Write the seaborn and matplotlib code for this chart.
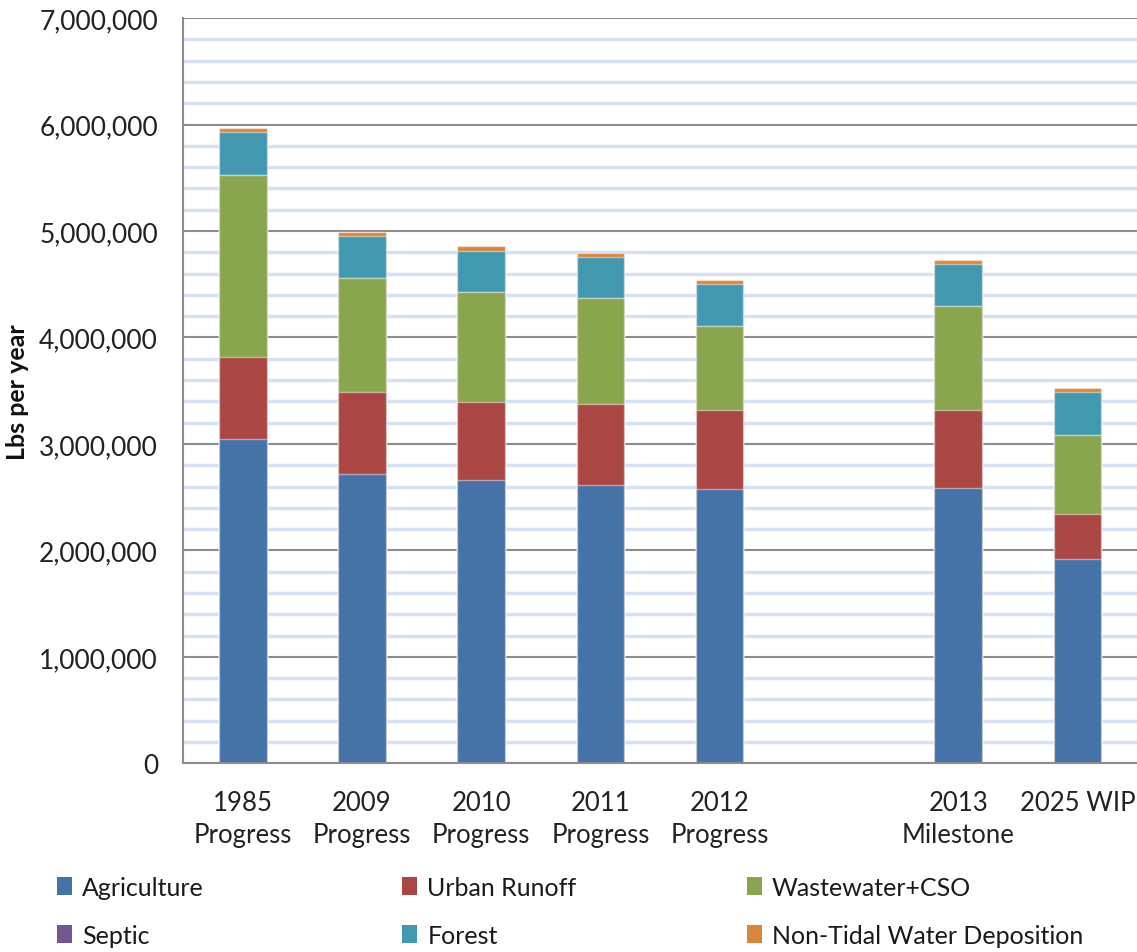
import pandas as pd
import numpy as np
import matplotlib.pyplot as plt
import matplotlib.ticker as mticker
from matplotlib.patches import Patch
import seaborn as sns

# scenarios (blank slot between 2012 and 2013 is kept empty)
scenarios = ['1985\nProgress', '2009\nProgress', '2010\nProgress', '2011\nProgress',
             '2012\nProgress', '2013\nMilestone', '2025 WIP']
order = scenarios[:5] + [' '] + scenarios[5:]

sources = ['Agriculture', 'Urban Runoff', 'Wastewater+CSO', 'Septic', 'Forest',
           'Non-Tidal Water Deposition']
colors = ['#4572A7', '#AA4643', '#89A54E', '#71588F', '#4198AF', '#DB843D']

# lbs per year
agriculture = [3048000, 2713000, 2662000, 2612000, 2580000, 2587000, 1917000]
urban_runoff = [767000, 770000, 733000, 761000, 740000, 733000, 423000]
wastewater = [1710000, 1071000, 1033000, 993000, 783000, 971000, 745000]
septic = [0, 0, 0, 0, 0, 0, 0]
forest = [405000, 398000, 386000, 385000, 398000, 398000, 398000]
non_tidal = [36000, 40000, 41000, 38000, 37000, 37000, 38000]

values = [agriculture, urban_runoff, wastewater, septic, forest, non_tidal]

df = pd.DataFrame({'Scenario': scenarios})
for src, vals in zip(sources, values):
    df[src] = vals
cum = df[sources].cumsum(axis=1)
cum['Scenario'] = df['Scenario']

sns.set_style("white")
plt.rcParams['font.family'] = ['Lato', 'DejaVu Sans']

fig, ax = plt.subplots(figsize=(11.37, 9.53), dpi=100)
fig.subplots_adjust(left=0.161, right=1.0, bottom=0.198, top=0.980)

# stacked bars: draw cumulative totals from the top layer down
for src, col in reversed(list(zip(sources, colors))):
    sns.barplot(data=cum, x='Scenario', y=src, order=order, color=col,
                saturation=1, width=0.4, errorbar=None, ax=ax,
                edgecolor=(1, 1, 1, 0.45), linewidth=1)

ax.set_xlim(-0.5, 7.5)
ax.set_ylim(0, 7000000)
ax.set_xlabel('')
ax.set_ylabel('Lbs per year', fontsize=18, fontweight='bold', labelpad=7, color='#111111')

ax.yaxis.set_major_locator(mticker.MultipleLocator(1000000))
ax.yaxis.set_minor_locator(mticker.MultipleLocator(200000))
ax.yaxis.set_major_formatter(mticker.StrMethodFormatter('{x:,.0f}'))
ax.set_axisbelow(True)
ax.grid(which='major', axis='y', color='#8C8C8C', lw=1.5)
ax.grid(which='minor', axis='y', color='#D8E1F1', lw=2.5)

ax.set_xticks(range(len(order)))
ax.set_xticklabels(order, linespacing=1.38)
ax.set_xticks(np.arange(-0.5, len(order)), minor=True)
ax.tick_params(axis='x', which='major', length=0, pad=19, labelsize=18.5, labelcolor='#222222')
ax.tick_params(axis='x', which='minor', length=6, width=1.2, color='#8C8C8C', direction='out')
ax.tick_params(axis='y', which='major', length=6, width=1.2, color='#8C8C8C', direction='out',
               pad=12, labelsize=19, labelcolor='#222222')
ax.tick_params(axis='y', which='minor', length=0)

for s in ['top', 'right']:
    ax.spines[s].set_visible(False)
for s in ['left', 'bottom']:
    ax.spines[s].set_color('#8C8C8C')
    ax.spines[s].set_linewidth(1.5)

# legend: three columns, two rows
handles = [Patch(facecolor=c, edgecolor='none') for c in colors]
col_x = [0.050, 0.354, 0.657]
for i, x in enumerate(col_x):
    leg = fig.legend(handles[i::3], sources[i::3], loc='upper left',
                     bbox_to_anchor=(x, 0.080), frameon=False, fontsize=18,
                     handlelength=0.6, handleheight=0.75, handletextpad=0.4,
                     labelspacing=1.0, borderaxespad=0, borderpad=0)
    for t in leg.get_texts():
        t.set_color('#1a1a1a')

plt.savefig('out.png', dpi=100)
